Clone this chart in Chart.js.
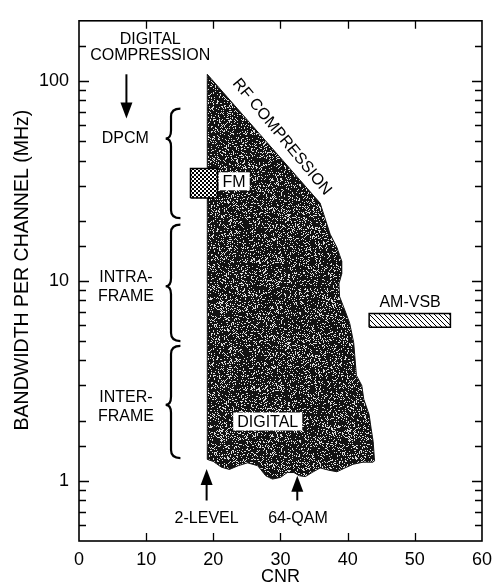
<!DOCTYPE html>
<html>
<head>
<meta charset="utf-8">
<script src="https://cdn.jsdelivr.net/npm/chart.js@4.4.0/dist/chart.umd.min.js"></script>
<style>
  html, body { margin: 0; padding: 0; background: #fff; }
  #wrap { width: 500px; height: 588px; }
</style>
</head>
<body>
<div id="wrap"><canvas id="chart"></canvas></div>
<script>
// outline of the digital region (CNR, MHz), clockwise from the top corner
const digitalCnr = [19.1, 35.9, 36.6, 37.4, 38.4, 39.1, 39.1, 38.7, 38.8, 39.6, 40.3, 40.9, 41.3, 42.1, 42.4, 43.2, 43.5, 43.8, 44.0,
  43.8, 42.3, 40.8, 39.6, 38.4, 37.2, 35.9, 34.7, 33.7, 32.8, 32.0, 31.0, 30.0, 28.8, 27.8, 26.6, 25.1, 23.7, 22.4, 21.2, 20.0, 19.1, 19.1];
const digitalBw = [108, 24.5, 20.7, 17.1, 14.7, 12.6, 10.8, 9.67, 8.34, 7.11, 6.14, 4.9, 3.37, 3.0, 2.56, 2.14, 1.82, 1.57, 1.26,
  1.24, 1.24, 1.21, 1.16, 1.11, 1.13, 1.16, 1.10, 1.05, 1.06, 1.10, 1.10, 1.04, 1.02, 1.06, 1.19, 1.23, 1.19, 1.14, 1.17, 1.25, 1.28, 108];

const fmCnr = [16.6, 20.6, 20.6, 16.6, 16.6];
const fmBw = [26, 26, 36.5, 36.5, 26];
const amCnr = [43.2, 55.3, 55.3, 43.2, 43.2];
const amBw = [5.86, 5.86, 6.87, 6.87, 5.86];

const bwLabels = [1, 10, 100];

// digital compression ranges (MHz): top, tip, bottom
const braceTop = [72.8, 19.1, 4.73];
const braceTip = [51.5, 9.4, 2.4];
const braceBottom = [20.6, 5.0, 1.30];

const notes = [
  { text: ['DIGITAL', 'COMPRESSION'], cnr: 10.6, mhz: 147, gap: 16 },
  { text: ['DPCM'], cnr: 6.9, mhz: 51.5 },
  { text: ['INTRA-', 'FRAME'], cnr: 7.0, mhz: 9.3 },
  { text: ['INTER-', 'FRAME'], cnr: 7.0, mhz: 2.34 },
  { text: ['AM-VSB'], cnr: 49.3, mhz: 7.8 },
  { text: ['2-LEVEL'], cnr: 19.0, mhz: 0.65 },
  { text: ['64-QAM'], cnr: 32.6, mhz: 0.65 }
];
const boxed = [
  { text: 'FM', cnr: 23.1, mhz: 31.5 },
  { text: 'DIGITAL', cnr: 28.1, mhz: 1.98 }
];
const arrows = [
  { cnr: 7.06, from: 108, to: 65 },
  { cnr: 19.0, from: 0.797, to: 1.146 },
  { cnr: 32.5, from: 0.797, to: 1.06 }
];
const rfLabel = { text: 'RF COMPRESSION', cnr: 30.2, mhz: 52.5 };

const FONT = "'Liberation Sans', Arial, sans-serif";
const toPts = (xs, ys) => xs.map((x, i) => ({ x: x, y: ys[i] }));

function makePattern(w, h, paint) {
  const c = document.createElement('canvas');
  c.width = w; c.height = h;
  const g = c.getContext('2d');
  paint(g, w, h);
  return g.createPattern(c, 'repeat');
}

function hash(i, j) {
  let n = Math.imul(i, 374761393) + Math.imul(j, 668265263);
  n = Math.imul(n ^ (n >>> 13), 1274126177);
  n = n ^ (n >>> 16);
  return (n >>> 0) / 4294967296;
}

const digitalFill = makePattern(128, 128, (g, w, h) => {
  const img = g.createImageData(w, h);
  for (let j = 0; j < h; j++) {
    for (let i = 0; i < w; i++) {
      const v = hash(i, j) < 0.2 ? 220 : 18;
      const k = (j * w + i) * 4;
      img.data[k] = img.data[k + 1] = img.data[k + 2] = v;
      img.data[k + 3] = 255;
    }
  }
  g.putImageData(img, 0, 0);
});

const fmFill = makePattern(4, 4, (g) => {
  g.fillStyle = '#fff'; g.fillRect(0, 0, 4, 4);
  g.fillStyle = '#000'; g.fillRect(0, 0, 2, 2); g.fillRect(2, 2, 2, 2);
});

const amFill = makePattern(5, 5, (g) => {
  g.fillStyle = '#fff'; g.fillRect(0, 0, 5, 5);
  g.fillStyle = '#000';
  for (let i = 0; i < 5; i++) g.fillRect(i, i, 1, 1);
});

function drawBrace(ctx, xs, xTip, xEnd, yTop, yMid, yBot) {
  const r = 8;
  ctx.beginPath();
  ctx.moveTo(xEnd, yTop);
  ctx.quadraticCurveTo(xs, yTop, xs, yTop + r);
  ctx.lineTo(xs, yMid - r);
  ctx.quadraticCurveTo(xs, yMid, xTip, yMid);
  ctx.quadraticCurveTo(xs, yMid, xs, yMid + r);
  ctx.lineTo(xs, yBot - r);
  ctx.quadraticCurveTo(xs, yBot, xEnd, yBot);
  ctx.stroke();
}

const annotate = {
  id: 'annotate',
  afterDatasetsDraw(chart) {
    const { ctx, scales: { x, y } } = chart;
    ctx.save();
    ctx.fillStyle = '#000';
    ctx.strokeStyle = '#000';
    ctx.textAlign = 'center';
    ctx.textBaseline = 'middle';
    ctx.font = '16px ' + FONT;

    notes.forEach(n => {
      const gap = n.gap || 19;
      const cx = x.getPixelForValue(n.cnr);
      const cy = y.getPixelForValue(n.mhz) - gap * (n.text.length - 1) / 2;
      n.text.forEach((t, i) => ctx.fillText(t, cx, cy + i * gap));
    });

    boxed.forEach(b => {
      const cx = x.getPixelForValue(b.cnr);
      const cy = y.getPixelForValue(b.mhz);
      const w = ctx.measureText(b.text).width + 8;
      ctx.fillStyle = '#fff';
      ctx.fillRect(cx - w / 2, cy - 9, w, 18);
      ctx.fillStyle = '#000';
      ctx.fillText(b.text, cx, cy + 1);
    });

    // braces
    ctx.lineWidth = 2.2;
    braceTop.forEach((t, i) => {
      drawBrace(ctx, x.getPixelForValue(13.7), x.getPixelForValue(12.9), x.getPixelForValue(15.1),
        y.getPixelForValue(t), y.getPixelForValue(braceTip[i]), y.getPixelForValue(braceBottom[i]));
    });

    // arrows
    arrows.forEach(a => {
      const ax = x.getPixelForValue(a.cnr);
      const y0 = y.getPixelForValue(a.from);
      const y1 = y.getPixelForValue(a.to);
      const dir = y1 > y0 ? 1 : -1;
      ctx.lineWidth = 2;
      ctx.beginPath();
      ctx.moveTo(ax, y0);
      ctx.lineTo(ax, y1 - dir * 10);
      ctx.stroke();
      ctx.beginPath();
      ctx.moveTo(ax, y1);
      ctx.lineTo(ax - 6, y1 - dir * 16);
      ctx.lineTo(ax + 6, y1 - dir * 16);
      ctx.closePath();
      ctx.fill();
    });

    // RF compression label, parallel to the upper edge
    const ex0 = x.getPixelForValue(digitalCnr[0]), ey0 = y.getPixelForValue(digitalBw[0]);
    const ex1 = x.getPixelForValue(digitalCnr[1]), ey1 = y.getPixelForValue(digitalBw[1]);
    ctx.translate(x.getPixelForValue(rfLabel.cnr), y.getPixelForValue(rfLabel.mhz));
    ctx.rotate(Math.atan2(ey1 - ey0, ex1 - ex0) + 0.03);
    ctx.fillText(rfLabel.text, 0, 0);
    ctx.restore();
  }
};

const frame = {
  id: 'frame',
  afterDraw(chart) {
    const { ctx, chartArea: a, scales: { x, y } } = chart;
    ctx.save();
    ctx.strokeStyle = '#000';
    ctx.lineWidth = 1.6;
    ctx.strokeRect(a.left, a.top, a.right - a.left, a.bottom - a.top);
    ctx.lineWidth = 1.3;
    ctx.beginPath();
    y.ticks.forEach(t => {
      if (t.value <= y.min || t.value >= y.max) return;
      const py = Math.round(y.getPixelForValue(t.value)) + 0.5;
      const len = bwLabels.some(v => Math.abs(v - t.value) < 1e-9) ? 10 : 7;
      ctx.moveTo(a.left, py); ctx.lineTo(a.left + len, py);
      ctx.moveTo(a.right, py); ctx.lineTo(a.right - len, py);
    });
    x.ticks.forEach(t => {
      if (t.value <= x.min || t.value >= x.max) return;
      const px = Math.round(x.getPixelForValue(t.value)) + 0.5;
      ctx.moveTo(px, a.bottom); ctx.lineTo(px, a.bottom - 8);
      ctx.moveTo(px, a.top); ctx.lineTo(px, a.top + 8);
    });
    ctx.stroke();
    ctx.restore();
  }
};

new Chart(document.getElementById('chart'), {
  type: 'scatter',
  data: {
    datasets: [
      {
        label: 'FM',
        data: toPts(fmCnr, fmBw),
        showLine: true, fill: 'shape', tension: 0,
        backgroundColor: fmFill, borderColor: '#000', borderWidth: 1.5, pointRadius: 0
      },
      {
        label: 'AM-VSB',
        data: toPts(amCnr, amBw),
        showLine: true, fill: 'shape', tension: 0,
        backgroundColor: amFill, borderColor: '#000', borderWidth: 1.5, pointRadius: 0
      },
      {
        label: 'DIGITAL',
        data: toPts(digitalCnr, digitalBw),
        showLine: true, fill: 'shape', tension: 0,
        backgroundColor: digitalFill, borderColor: '#111', borderWidth: 1, pointRadius: 0
      }
    ]
  },
  options: {
    responsive: true,
    maintainAspectRatio: false,
    animation: false,
    layout: { padding: { top: 12, right: 12, left: 0, bottom: 0 } },
    plugins: { legend: { display: false }, tooltip: { enabled: false } },
    scales: {
      x: {
        type: 'linear', min: 0, max: 60,
        ticks: { stepSize: 10, color: '#000', padding: 8, font: { family: FONT, size: 18 } },
        grid: { display: false, drawTicks: false },
        border: { display: false },
        title: { display: true, text: 'CNR', color: '#000', padding: { top: 0, bottom: 0 }, font: { family: FONT, size: 18 } },
        afterFit(scale) { scale.height = 47; }
      },
      y: {
        type: 'logarithmic', min: 0.5, max: 200,
        ticks: {
          autoSkip: false, color: '#000', padding: 10, font: { family: FONT, size: 18 },
          callback: (v) => bwLabels.some(b => Math.abs(b - v) < 1e-9) ? String(v) : ''
        },
        grid: { display: false, drawTicks: false },
        border: { display: false },
        title: { display: true, text: '    BANDWIDTH PER CHANNEL (MHz)', color: '#000', padding: { top: 11, bottom: 0 }, font: { family: FONT, size: 19.5 } },
        afterFit(scale) { scale.width = 79; }
      }
    }
  },
  plugins: [annotate, frame]
});
</script>
</body>
</html>
